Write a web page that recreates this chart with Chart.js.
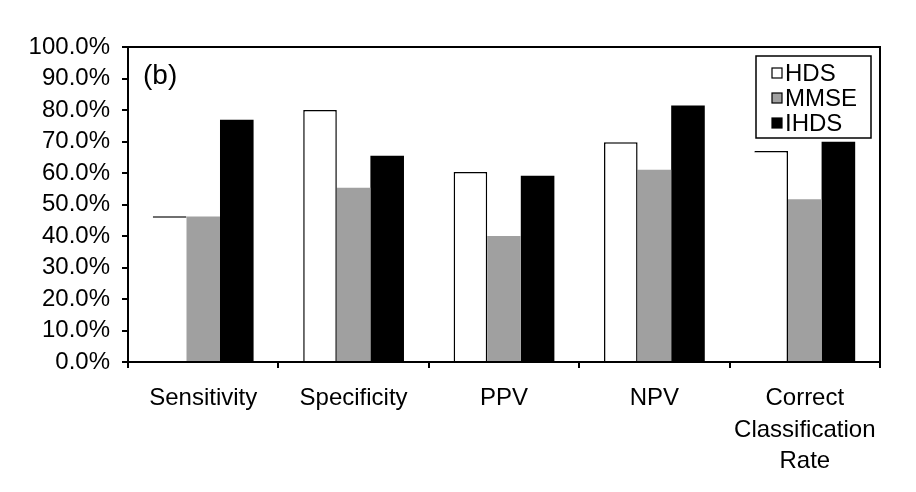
<!DOCTYPE html>
<html>
<head>
<meta charset="utf-8">
<script src="https://cdn.jsdelivr.net/npm/chart.js@4/dist/chart.umd.min.js"></script>
<style>
  html, body { margin: 0; padding: 0; background: #fff; }
  #wrap { width: 916px; height: 492px; }
</style>
</head>
<body>
<div id="wrap"><canvas id="myBarChart"></canvas></div>
<script>
// valeurs (%)
const categories = ["Sensitivity", "Specificity", "PPV", "NPV", ["Correct", "Classification", "Rate"]];
const hdsValues = [46.3, 80.0, 60.3, 69.8, 67.0];
const mmseValues = [46.2, 55.3, 40.0, 61.0, 51.7];
const ihdsValues = [76.9, 65.5, 59.1, 81.4, 69.9];
const yTicks = [0, 10, 20, 30, 40, 50, 60, 70, 80, 90, 100];
const panelLabel = "(b)";

const FONT = "'Liberation Sans', Arial, Helvetica, sans-serif";

// bordures du HDS : certaines barres n'ont que le bord du haut dans l'original
function hdsBorder(ctx) {
  if (ctx.dataIndex === 0) return { top: 1.5, left: 0, right: 0, bottom: 0 };
  if (ctx.dataIndex === 4) return { top: 1.5, left: 0, right: 1.5, bottom: 0 };
  return { top: 1.5, left: 1.5, right: 1.5, bottom: 0 };
}

const framePlugin = {
  id: 'framePlugin',
  afterDraw(chart) {
    const c = chart.ctx;
    const a = chart.chartArea;
    c.save();
    // cadre haut et droite
    c.strokeStyle = '#000';
    c.lineWidth = 2;
    c.beginPath();
    c.moveTo(a.left, a.top);
    c.lineTo(a.right, a.top);
    c.lineTo(a.right, a.bottom);
    c.stroke();

    // (b)
    c.fillStyle = '#000';
    c.font = '28px ' + FONT;
    c.textBaseline = 'alphabetic';
    c.textAlign = 'left';
    c.fillText(panelLabel, 143, 84);

    // légende
    const bx = 756, by = 56, bw = 115, bh = 82;
    c.fillStyle = '#fff';
    c.fillRect(bx, by, bw, bh);
    c.lineWidth = 1.5;
    c.strokeStyle = '#000';
    c.strokeRect(bx, by, bw, bh);
    c.font = '24px ' + FONT;
    chart.data.datasets.forEach((ds, i) => {
      const rowY = 73 + i * 25;
      c.fillStyle = ds.backgroundColor;
      c.fillRect(772, rowY - 5, 10, 10);
      c.strokeStyle = '#000';
      c.lineWidth = 1.2;
      c.strokeRect(772, rowY - 5, 10, 10);
      c.fillStyle = '#000';
      c.fillText(ds.label, 785, rowY + 8);
    });
    c.restore();
  }
};

const ctx = document.getElementById('myBarChart');
const myBarChart = new Chart(ctx, {
  type: 'bar',
  data: {
    labels: categories,
    datasets: [
      {
        label: 'HDS',
        data: hdsValues,
        backgroundColor: '#ffffff',
        borderColor: '#000000',
        borderWidth: hdsBorder,
        borderSkipped: false
      },
      {
        label: 'MMSE',
        data: mmseValues,
        backgroundColor: '#a0a0a0',
        borderWidth: 0
      },
      {
        label: 'IHDS',
        data: ihdsValues,
        backgroundColor: '#000000',
        borderWidth: 0
      }
    ]
  },
  options: {
    responsive: true,
    maintainAspectRatio: false,
    animation: false,
    layout: { padding: { top: 47, right: 36, left: 0, bottom: 0 } },
    datasets: {
      bar: { categoryPercentage: 0.67, barPercentage: 1.0 }
    },
    plugins: {
      legend: { display: false },
      tooltip: { enabled: false }
    },
    scales: {
      x: {
        grid: { offset: true, drawOnChartArea: false, drawTicks: true, tickLength: 6, color: '#000', lineWidth: 2 },
        border: { display: true, color: '#000', width: 2 },
        ticks: {
          color: '#000',
          font: { family: FONT, size: 24, lineHeight: 1.33 },
          padding: 14,
          maxRotation: 0,
          autoSkip: false
        },
        afterFit(scale) { scale.height = 130; }
      },
      y: {
        min: 0,
        max: 100,
        afterBuildTicks(scale) { scale.ticks = yTicks.map(v => ({ value: v })); },
        grid: { drawOnChartArea: false, drawTicks: true, tickLength: 6, color: '#000', lineWidth: 2 },
        border: { display: true, color: '#000', width: 2 },
        ticks: {
          color: '#000',
          font: { family: FONT, size: 24 },
          padding: 12,
          autoSkip: false,
          callback: (v) => v.toFixed(1) + '%'
        },
        afterFit(scale) { scale.width = 128; }
      }
    }
  },
  plugins: [framePlugin]
});
</script>
</body>
</html>
